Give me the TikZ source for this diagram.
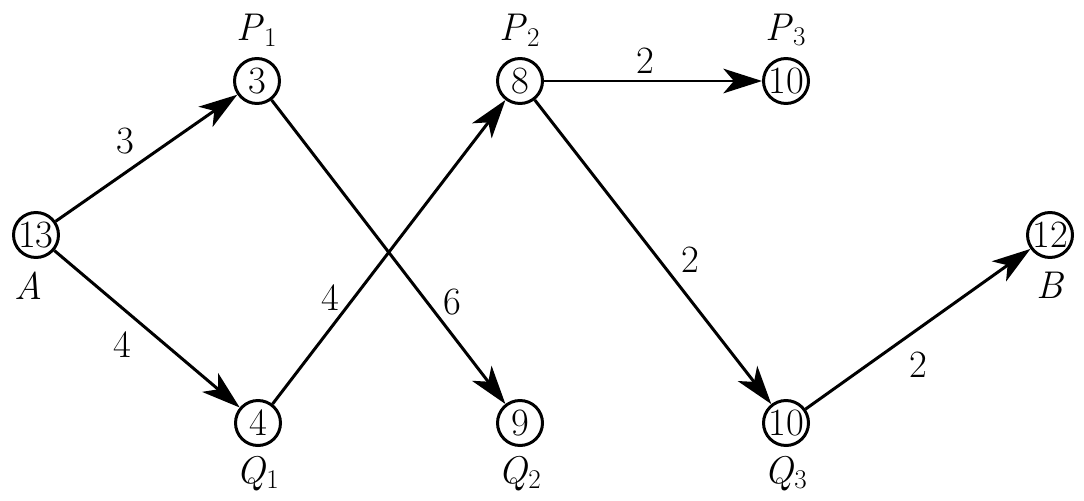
\documentclass[tikz,border=0pt]{standalone}
\usepackage{fontspec}
\usetikzlibrary{arrows.meta,positioning}

\begin{document}
\begin{tikzpicture}[x=0.02cm,y=-0.02cm,>={Stealth[length=22pt,width=14pt,inset=6pt]},
 every node/.style={font=\fontsize{22}{25}\selectfont},
 vert/.style={draw,circle,line width=1.7pt,minimum size=0.9cm,inner sep=0pt},
 nm/.style={font=\fontsize{22}{25}\selectfont,inner sep=1pt},
 link/.style={->,line width=1.7pt}]
\useasboundingbox (0,0) rectangle (1084,500);
\node[vert,label={[nm,label distance=6pt,xshift=-4]below:\textit{A}}] (A) at (36,235) {13};
\node[vert,label={[nm,label distance=5pt]above:\textit{P}\textsubscript{1}}] (P1) at (257,81) {3};
\node[vert,label={[nm,label distance=4pt]below:\textit{Q}\textsubscript{1}}] (Q1) at (258,423) {4};
\node[vert,label={[nm,label distance=5pt]above:\textit{P}\textsubscript{2}}] (P2) at (520,81) {8};
\node[vert,label={[nm,label distance=4pt]below:\textit{Q}\textsubscript{2}}] (Q2) at (520,423) {9};
\node[vert,label={[nm,label distance=5pt]above:\textit{P}\textsubscript{3}}] (P3) at (786,81) {10};
\node[vert,label={[nm,label distance=4pt]below:\textit{Q}\textsubscript{3}}] (Q3) at (786,423) {10};
\node[vert,label={[nm,label distance=6pt]below:\textit{B}}] (B) at (1050,235) {12};
\draw[link] (A)--node[shift={(-21,-17)}] {3}(P1);
\draw[link] (A)--node[shift={(-25,16)}] {4}(Q1);
\draw[link] (P1)--node[shift={(64,50)}] {6}(Q2);
\draw[link] (Q1)--node[shift={(-59,46)}] {4}(P2);
\draw[link] (P2)--node[shift={(-8,-20)}] {2}(P3);
\draw[link] (P2)--node[shift={(37,8)}] {2}(Q3);
\draw[link] (Q3)--node[shift={(0,36)}] {2}(B);
\end{tikzpicture}
\end{document}
